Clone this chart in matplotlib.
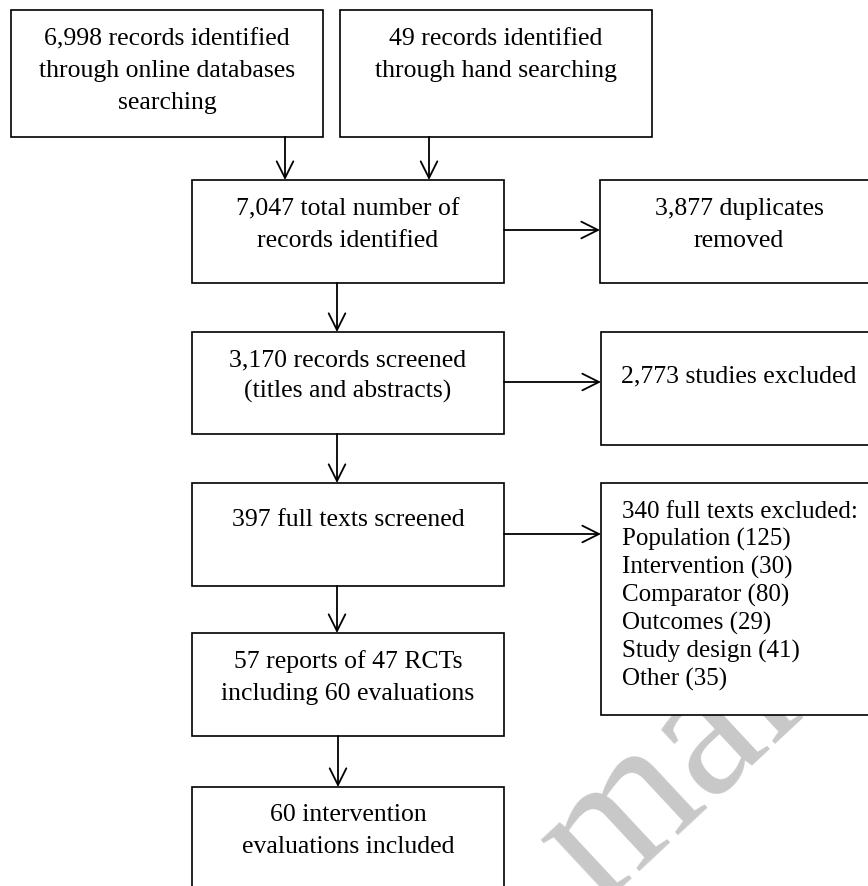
import matplotlib.pyplot as plt

# box texts (PRISMA flow)
box_online = ['6,998 records identified', 'through online databases', 'searching']
box_hand = ['49 records identified', 'through hand searching']
box_total = ['7,047 total number of', 'records identified']
box_dupes = ['3,877 duplicates', 'removed']
box_screened = ['3,170 records screened', '(titles and abstracts)']
box_excl1 = ['2,773 studies excluded']
box_fulltext = ['397 full texts screened']
excl_reasons = ['Population', 'Intervention', 'Comparator', 'Outcomes', 'Study design', 'Other']
excl_counts = [125, 30, 80, 29, 41, 35]
box_rcts = ['57 reports of 47 RCTs', 'including 60 evaluations']
box_final = ['60 intervention', 'evaluations included']

W, H = 868, 886
fig = plt.figure(figsize=(W / 100, H / 100), dpi=100)
ax = fig.add_axes([0, 0, 1, 1])
ax.set_xlim(0, W)
ax.set_ylim(H, 0)
ax.axis('off')

FONT = 'Liberation Serif'
FS = 18.5

# faint watermark behind the boxes (mostly hidden, as in the original)
ax.text(598, 905, 'manuscript', fontsize=140, family=FONT, color='#c8c8c8',
        rotation=43, rotation_mode='anchor', ha='left', va='baseline', zorder=0,
        clip_on=True)


def box(x0, y0, x1, y1):
    ax.add_patch(plt.Rectangle((x0, y0), x1 - x0, y1 - y0, facecolor='white',
                               edgecolor='black', lw=1.2, zorder=2))


def lines(cx, y_first, texts, step=32, ha='center', fs=FS):
    for i, t in enumerate(texts):
        ax.text(cx, y_first + 8 + i * step, t, fontsize=fs, family=FONT,
                ha=ha, va='baseline', zorder=3)


def arrow(x0, y0, x1, y1):
    ax.annotate('', xy=(x1, y1), xytext=(x0, y0), zorder=3,
                arrowprops=dict(arrowstyle='->', mutation_scale=30, lw=1.3,
                                color='black', shrinkA=0, shrinkB=0))


box(11, 10, 323, 137); lines(167, 37, box_online)
box(340, 10, 652, 137); lines(496, 37, box_hand)
box(192, 180, 504, 283); lines(348, 207, box_total)
box(600, 180, 878, 283); lines(739, 207, box_dupes)
box(192, 332, 504, 434); lines(348, 358, box_screened)
box(601, 332, 878, 445); lines(739, 374, box_excl1)
box(192, 483, 504, 586); lines(348, 518, box_fulltext)
box(601, 483, 878, 715)
h_lines = ['340 full texts excluded:'] + [f'{r} ({c})' for r, c in zip(excl_reasons, excl_counts)]
lines(622, 510, h_lines, step=28, ha='left', fs=18)
box(192, 633, 504, 736); lines(348, 660, box_rcts)
box(192, 787, 504, 900); lines(348, 813, box_final)

arrow(285, 137, 285, 180)
arrow(429, 137, 429, 180)
arrow(504, 230, 600, 230)
arrow(337, 283, 337, 332)
arrow(504, 382, 601, 382)
arrow(337, 434, 337, 483)
arrow(504, 534, 601, 534)
arrow(337, 586, 337, 633)
arrow(338, 736, 338, 787)

fig.savefig('out.png', dpi=100)
